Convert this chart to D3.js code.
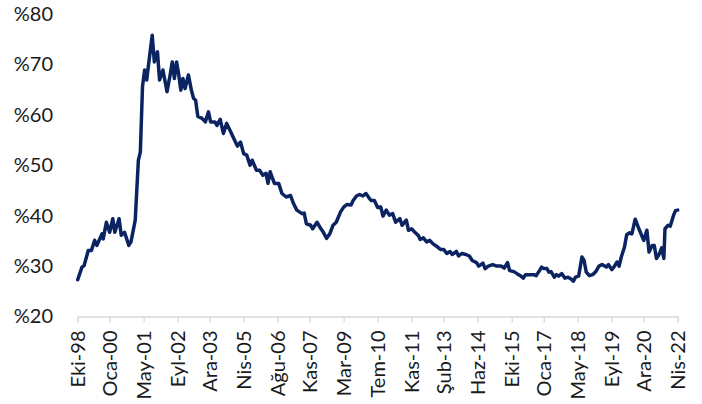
<!DOCTYPE html>
<html><head><meta charset="utf-8">
<script src="https://cdn.jsdelivr.net/npm/d3@7/dist/d3.min.js"></script>
<style>
html,body{margin:0;padding:0;background:#fff;}
svg{display:block;}
text{font-family:Lato,"Open Sans",sans-serif;fill:#1a1a1a;}
</style></head>
<body><svg id="chart" width="702" height="404"></svg>
<script>
const dates = ["1998-10","1998-12","1999-01","1999-03","1999-04-15","1999-06","1999-07","1999-09-15","1999-10","1999-11-15",
"2000-01","2000-02-15","2000-03-15","2000-05-15","2000-06-15","2000-08","2000-10","2000-11","2001-01","2001-02-15",
"2001-03-15","2001-04-15","2001-05-15","2001-06-15","2001-07","2001-09","2001-10","2001-11-15","2001-12-15","2002-02",
"2002-04","2002-05-15","2002-06-15","2002-07-15","2002-08-15","2002-09-15","2002-10-15","2002-11-15","2002-12-15","2003-02",
"2003-03-15","2003-04-15","2003-05-15","2003-06-15","2003-08-15","2003-10","2003-11-15","2003-12-15","2004-02-15","2004-03-15",
"2004-05","2004-06-15","2004-08","2004-09-15","2004-11","2005-01","2005-02-15","2005-04","2005-05-15","2005-07",
"2005-08","2005-10","2005-11-15","2006-01","2006-02-15","2006-03-15","2006-04-15","2006-06-15","2006-08-15","2006-10",
"2006-12","2007-02","2007-03-15","2007-05","2007-07-15","2007-08-15","2007-09-15","2007-11-15","2007-12-15","2008-02-15",
"2008-04","2008-05-15","2008-07","2008-08-15","2008-10","2008-11-15","2009-01-15","2009-03","2009-04-15","2009-06-15",
"2009-07-15","2009-09","2009-10-15","2009-12","2010-01-15","2010-03","2010-04","2010-05-15","2010-07","2010-08-15",
"2010-09-15","2010-11","2010-12-15","2011-02","2011-03-15","2011-05-15","2011-06-15","2011-08-15","2011-09-15","2011-11",
"2011-12-15","2012-02","2012-03","2012-04-15","2012-06","2012-07-15","2012-09","2012-10-15","2012-12-15","2013-02",
"2013-03-15","2013-05","2013-06","2013-08","2013-09","2013-10-15","2013-12-15","2014-02","2014-03-15","2014-05-15",
"2014-06-15","2014-08-15","2014-09-15","2014-11","2015-01","2015-03","2015-05","2015-06-15","2015-08","2015-09",
"2015-11","2015-12-15","2016-02","2016-03-15","2016-04-15","2016-06","2016-08-15","2016-09-15","2016-11","2016-12",
"2017-01","2017-02-15","2017-03-15","2017-04-15","2017-06","2017-07","2017-08","2017-09-15","2017-11","2017-12-15",
"2018-02","2018-03","2018-04","2018-05-15","2018-07","2018-08","2018-09","2018-10-15","2018-12","2019-01-15",
"2019-03","2019-04-15","2019-06-15","2019-07-15","2019-09","2019-10","2019-11-15","2019-12-15","2020-01-15","2020-03",
"2020-04","2020-05-15","2020-06-15","2020-08","2020-09-15","2020-11","2020-12","2021-01-15","2021-02-15","2021-04",
"2021-05","2021-06","2021-07-15","2021-08-15","2021-09-15","2021-10","2021-11-15","2021-12-15","2022-02","2022-03",
"2022-04"];
const values = [27.3,29.8,30.1,33.1,33.1,35.1,34.1,36.4,35.4,38.7,
36.7,39.4,36.7,39.4,36.1,36.7,34.1,34.8,39.1,51.0,
52.6,65.6,68.9,66.9,68.9,75.8,70.5,72.5,66.9,68.9,
64.6,67.9,70.5,67.2,70.5,68.0,64.9,67.2,65.2,67.9,
64.9,63.3,62.9,59.7,59.3,58.6,60.6,58.6,58.6,57.9,
59.1,56.3,58.3,57.0,55.6,53.8,54.6,52.3,52.0,50.0,
51.0,49.0,49.0,48.0,48.4,46.4,48.7,46.4,46.4,44.4,
43.7,44.0,42.4,41.1,40.4,40.5,38.4,38.1,37.4,38.7,
37.6,36.7,35.5,36.4,38.1,38.7,40.7,41.7,42.2,42.1,
43.0,43.9,44.2,43.9,44.4,43.5,43.0,43.0,41.6,41.7,
39.9,41.1,40.1,40.4,38.7,39.4,38.1,39.1,37.1,37.4,
36.7,36.1,35.3,35.6,34.8,35.1,34.4,34.0,33.3,33.3,
32.5,32.9,32.3,32.9,32.0,32.5,32.3,32.0,31.1,30.7,
30.0,30.6,29.5,30.0,30.3,30.0,30.0,29.6,30.7,29.1,
28.9,28.5,28.1,27.6,28.3,28.3,28.3,28.1,29.1,29.8,
29.5,29.5,28.8,28.9,27.8,28.3,28.0,28.5,27.6,27.8,
27.4,27.0,27.8,28.0,31.8,31.1,28.8,28.1,28.3,28.9,
30.0,30.3,29.8,30.3,29.3,29.8,30.8,30.0,31.8,33.8,
36.2,36.6,36.4,39.3,37.7,36.1,35.1,37.1,32.8,34.1,
34.1,31.5,32.5,33.6,31.5,37.4,38.1,37.9,40.1,41.0,
41.1];
const tickDates = ["1998-10","2000-01","2001-05","2002-09","2003-12","2005-04","2006-08","2007-11","2009-03","2010-07",
"2011-11","2013-02","2014-06","2015-10","2017-01","2018-05","2019-09","2020-12","2022-04"];
const tickLabels = ["Eki-98","Oca-00","May-01","Eyl-02","Ara-03","Nis-05","Ağu-06","Kas-07","Mar-09","Tem-10",
"Kas-11","Şub-13","Haz-14","Eki-15","Oca-17","May-18","Eyl-19","Ara-20","Nis-22"];
const yTicks = [20,30,40,50,60,70,80];

const parse = s => s.length === 7 ? d3.timeParse("%Y-%m")(s) : d3.timeParse("%Y-%m-%d")(s);
const data = dates.map((d,i) => ({date: parse(d), value: values[i]}));
const tdates = tickDates.map(parse);

const svg = d3.select("#chart");
const x = d3.scaleTime().domain([tdates[0], tdates[tdates.length-1]]).range([77.7, 677.7]);
const y = d3.scaleLinear().domain([20, 80]).range([316.5, 14]);

// x axis
const xAxis = d3.axisBottom(x).tickValues(tdates).tickSize(6).tickFormat((d,i)=>tickLabels[i]);
const gx = svg.append("g").attr("transform","translate(0,316.5)").call(xAxis);
gx.select(".domain").attr("stroke","#d9d9d9").attr("stroke-width",1.3);
gx.selectAll(".tick line").attr("stroke","#d9d9d9").attr("stroke-width",1.3);
gx.selectAll(".tick text")
  .attr("transform","translate(0,14) rotate(-90)")
  .attr("text-anchor","end").attr("x",0).attr("y",0).attr("dy","0.36em")
  .style("font-size","20px").style("font-family","Lato, 'Open Sans', sans-serif").attr("fill","#1a1a1a");

// y axis labels
const yAxis = d3.axisLeft(y).tickValues(yTicks).tickSize(0).tickPadding(0).tickFormat(d=>"%"+d);
const gy = svg.append("g").attr("transform","translate(53,0)").call(yAxis);
gy.select(".domain").remove();
gy.selectAll(".tick text").style("font-size","20px").style("font-family","Lato, 'Open Sans', sans-serif").attr("fill","#1a1a1a");

// line
const line = d3.line().x(d=>x(d.date)).y(d=>y(d.value)).curve(d3.curveLinear);
svg.append("path").datum(data).attr("d",line)
  .attr("fill","none").attr("stroke","#0b2461").attr("stroke-width",3.5)
  .attr("stroke-linejoin","round").attr("stroke-linecap","round");
</script></body></html>
